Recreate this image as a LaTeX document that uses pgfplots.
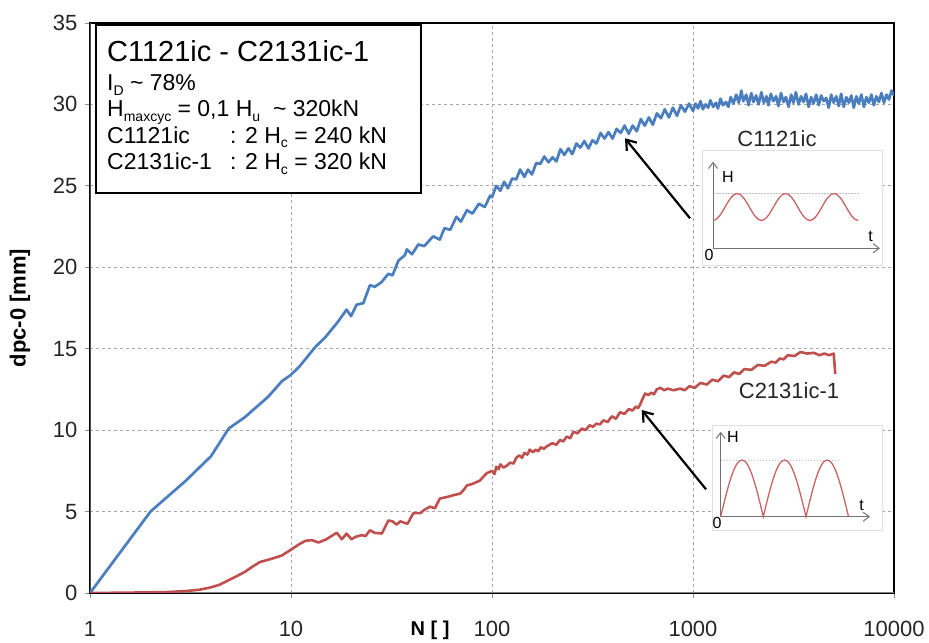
\documentclass[border=0pt]{standalone}
\usepackage{fontspec}
\setmainfont{Liberation Sans}
\usepackage{pgfplots}
\pgfplotsset{compat=1.18}
\usetikzlibrary{arrows.meta}
\definecolor{cblue}{HTML}{4A7EBF}
\definecolor{cred}{HTML}{C0504D}
\definecolor{csine}{HTML}{C86464}
\definecolor{cgrid}{HTML}{A6A6A6}
\newcommand\sub[1]{\raisebox{-0.2em}{\fontsize{14}{14}\selectfont #1}}

\pgfplotstableread{
N y
1 0
2 5.0
3 6.9
4 8.4
4.9 10.1
5.9 10.8
7.7 12.05
9 13.0
10 13.4
11 13.9
13.2 15.1
14.8 15.7
17 16.6
18.9 17.4
19.9 17.0
21.2 17.7
22.9 17.8
24.7 18.9
26.1 18.8
28.3 19.1
30.5 19.6
32 19.5
34.2 20.4
36.9 20.75
37.7 21.1
40 20.8
43 21.4
46 21.3
51 21.9
55 21.7
58 22.4
62 22.3
66.5 23.1
70 22.8
75 23.5
80 23.3
86 23.9
92 23.7
98 24.4
100 24.3
105 25.0
110 24.7
115 25.25
120 24.85
126 25.45
132 25.4
138 26.0
145 25.55
151 26.0
158 25.7
166 26.4
174 26.35
182 26.8
191 26.45
200 26.75
209 26.5
219 27.25
229 26.9
240 27.3
251 26.95
263 27.6
275 27.35
288 27.75
302 27.3
316 27.8
331 27.6
347 28.25
363 27.9
380 28.3
398 27.9
417 28.5
437 28.25
457 28.7
479 28.2
501 28.7
525 28.35
550 29.1
575 28.7
603 29.2
631 28.75
661 29.45
692 29.15
724 29.7
759 29.2
794 29.8
832 29.3
871 29.95
912 29.55
955 30.05
1000 29.6
1030 30.05
1060 29.75
1090 30.2
1120 29.7
1155 30.0
1190 29.8
1220 30.25
1260 29.85
1300 30.1
1330 29.75
1370 30.35
1410 29.95
1460 30.15
1500 29.85
1540 30.45
1590 30.05
1640 30.6
1690 30.1
1740 30.85
1780 30.2
1840 30.6
1890 29.95
1950 30.7
2000 30.15
2060 30.55
2120 30.0
2190 30.75
2250 30.1
2320 30.5
2370 29.95
2440 30.65
2510 30.2
2590 30.5
2660 29.9
2740 30.7
2820 30.15
2900 30.45
2990 29.85
3080 30.6
3160 30.1
3250 30.75
3350 30.0
3450 30.5
3550 30.15
3650 30.65
3760 29.85
3870 30.45
3980 30.05
4100 30.6
4220 29.95
4340 30.55
4470 30.2
4600 30.4
4730 29.8
4870 30.6
5010 30.1
5160 30.5
5310 29.9
5460 30.65
5620 29.85
5790 30.45
5960 30.1
6130 30.55
6310 29.8
6490 30.5
6680 30.05
6880 30.6
7080 29.85
7290 30.45
7500 30.1
7720 30.6
7940 29.95
8170 30.5
8410 30.15
8660 30.7
8910 30.1
9170 30.6
9440 30.3
9720 30.85
10000 30.55
}\blueA

\pgfplotstableread{
N y
1 0
1.5 0.02
2 0.04
2.45 0.06
3 0.12
3.5 0.2
3.95 0.33
4.4 0.5
4.88 0.78
5.4 1.05
5.9 1.3
6.4 1.6
7.0 1.9
8 2.1
9 2.3
10.1 2.7
11 3.0
11.8 3.2
12.7 3.25
13.7 3.1
15 3.3
16.9 3.7
17.9 3.3
18.9 3.65
20 3.3
21 3.45
22.4 3.55
23.5 3.5
24.7 3.85
26 3.7
28.3 3.65
30.5 4.45
32 4.4
33.5 4.2
35 4.4
36.9 4.3
38 4.25
40.6 4.9
44 4.9
46 5.1
49.1 5.3
52 5.2
55 5.8
60 5.9
64 6.0
69.4 6.1
72 6.3
75 6.6
80 6.7
87 6.9
90 7.1
94 7.35
100 7.5
103 7.3
105 7.75
108 7.6
110 7.9
114 7.7
118 7.8
123 8.0
128 7.95
132 8.3
137 8.45
141 8.3
145 8.6
150 8.5
154 8.8
160 8.65
165 8.8
170 8.7
175 8.95
181 8.85
187 9.0
193 9.1
200 9.2
209 9.1
218 9.4
226 9.3
235 9.6
245 9.5
254 9.9
266 9.8
280 10.1
292 10.0
306 10.3
318 10.2
330 10.4
344 10.35
358 10.6
376 10.5
395 10.85
414 10.7
433 11.1
456 11.0
480 11.3
500 11.2
520 11.45
533 11.35
545 11.55
560 11.9
578 12.25
600 12.15
620 12.3
640 12.2
660 12.5
687 12.6
720 12.45
750 12.55
800 12.45
865 12.55
910 12.45
960 12.7
1020 12.6
1090 12.9
1170 12.8
1250 13.1
1330 13.0
1422 13.35
1510 13.25
1600 13.55
1700 13.45
1800 13.75
1950 13.7
2100 14.0
2270 13.95
2450 14.2
2580 14.15
2700 14.4
2830 14.35
2960 14.6
3200 14.55
3430 14.8
3700 14.7
4000 14.75
4250 14.6
4500 14.7
4750 14.6
5010 14.7
5050 14.2
5100 13.45
}\redA

\begin{document}
\begin{tikzpicture}
\begin{axis}[
  at={(0pt,0pt)}, anchor=south west,
  scale only axis, width=804pt, height=570pt,
  xmode=log, log basis x=10,
  xmin=1, xmax=10000, ymin=0, ymax=35,
  xtick={1,10,100,1000,10000},
  xticklabels={1,10,100,1000,10000},
  ytick={0,5,10,15,20,25,30,35},
  xminorticks=false, yminorticks=false,
  grid=major,
  major grid style={cgrid, line width=0.8pt, dash pattern=on 3pt off 3pt},
  tick pos=left, tick align=outside, major tick length=5pt,
  tick style={black!45, line width=0.8pt},
  axis line style={black, line width=1.3pt},
  ticklabel style={font=\fontsize{22}{22}\selectfont, text=black!85},
  /pgf/number format/assume math mode=true,
  yticklabel style={xshift=-4pt},
  xticklabel style={yshift=-20pt},
  xlabel={N [ ]},
  xlabel style={at={(axis description cs:0.4229,-0.0649)}, anchor=center, font=\bfseries\fontsize{20}{20}\selectfont},
  ylabel={dpc-0 [mm]},
  ylabel style={at={(axis description cs:-0.0871,0.5)}, anchor=center, font=\bfseries\fontsize{22}{22}\selectfont},
]
\draw[black!50, line width=2.5pt] (rel axis cs:0,0) -- (rel axis cs:1,0);
\draw[black!70, line width=2pt] (rel axis cs:0,0) -- (rel axis cs:0,1);
\addplot[cblue, line width=2.7pt, line join=round] table[x=N, y=y] {\blueA};
\addplot[cred, line width=2.6pt, line join=round] table[x=N, y=y] {\redA};
\end{axis}

\begin{scope}[x=1pt, y=1pt]
% bounding box
\path (-90,-48) rectangle (839,593);
% text box
\draw[black, line width=2.5pt, fill=white] (6,400) rectangle (331,568);
\node[anchor=base west, inner sep=0pt, font=\fontsize{29}{29}\selectfont] at (17,531.3) {C1121ic - C2131ic-1};
\begin{scope}[every node/.style={anchor=base west, inner sep=0pt, font=\fontsize{23}{23}\selectfont}]
\node at (17,502.3) {I\sub{D} \textasciitilde\ 78\%};
\node at (17,476.3) {H\sub{maxcyc} = 0,1 H\sub{u} \ \textasciitilde\ 320kN};
\node at (17,449.7) {C1121ic};
\node at (140,449.7) {: 2 H\sub{c} = 240 kN};
\node at (17,423) {C2131ic-1};
\node at (140,423) {: 2 H\sub{c} = 320 kN};
\end{scope}
% curve labels
\node[font=\fontsize{22}{22}\selectfont, text=black!85] at (687,454) {C1121ic};
\node[font=\fontsize{22}{22}\selectfont, text=black!85] at (699,202) {C2131ic-1};
% inset 1
\fill[white] (612,328) rectangle (792,443);
\draw[black!12, line width=0.6pt] (612,328) rectangle (792,443);
\draw[black!25, line width=0.7pt, dash pattern=on 1.5pt off 1.5pt] (623,399.5) -- (770,399.5);
\draw[black!55, line width=1pt, -{Straight Barb[length=6pt,width=9pt]}] (623,344.7) -- (623,431.3);
\draw[black!55, line width=1pt, -{Straight Barb[length=6pt,width=9pt]}] (623,344.7) -- (790,344.7);
\draw[csine, line width=1.3pt] (623,372.5) cos (635.1,386) sin (647.2,399.5) cos (659.3,386) sin (671.4,372.5) cos (683.5,386) sin (695.6,399.5) cos (707.7,386) sin (719.8,372.5) cos (731.9,386) sin (744,399.5) cos (756.1,386) sin (768.2,372.5);
\node[font=\fontsize{16}{16}\selectfont] at (638,416.3) {H};
\node[font=\fontsize{16}{16}\selectfont] at (780.7,357) {t};
\node[font=\fontsize{16}{16}\selectfont] at (619,338) {0};
% inset 2
\fill[white] (622,63) rectangle (792,168);
\draw[black!12, line width=0.6pt] (622,63) rectangle (792,168);
\draw[black!25, line width=0.7pt, dash pattern=on 1.5pt off 1.5pt] (630.7,133) -- (750,133);
\draw[black!55, line width=1pt, -{Straight Barb[length=6pt,width=9pt]}] (630.7,76.3) -- (630.7,161.3);
\draw[black!55, line width=1pt, -{Straight Barb[length=6pt,width=9pt]}] (630.7,76.3) -- (780,76.3);
\draw[csine, line width=1.3pt] (630.7,76.3) sin (652,133) cos (673.3,76.3) sin (694.6,133) cos (716,76.3) sin (737.2,133) cos (758.5,76.3);
\node[font=\fontsize{16}{16}\selectfont] at (643,156) {H};
\node[font=\fontsize{16}{16}\selectfont] at (771.7,88) {t};
\node[font=\fontsize{16}{16}\selectfont] at (627,70) {0};
% arrows
\draw[black, line width=2.2pt, -{Straight Barb[length=9pt,width=13pt]}] (600,374.7) -- (535,454.7);
\draw[black, line width=2.2pt, -{Straight Barb[length=9pt,width=13pt]}] (616,103.7) -- (551.7,183);
\end{scope}
\end{tikzpicture}
\end{document}
